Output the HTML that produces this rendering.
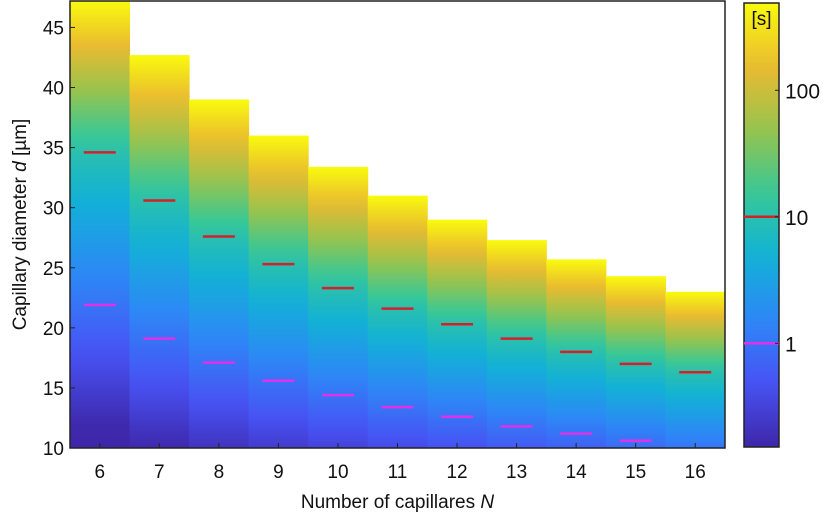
<!DOCTYPE html>
<html><head><meta charset="utf-8"><style>
body{margin:0;background:#fff;width:825px;height:516px;overflow:hidden;font-family:"Liberation Sans",sans-serif}
</style></head><body>
<svg id="chart" width="825" height="516"></svg>
<script>
const categories=[6,7,8,9,10,11,12,13,14,15,16];
const topD=[47.2,42.7,39.0,36.0,33.4,31.0,29.0,27.3,25.7,24.3,23.0];
const red10s=[34.6,30.6,27.6,25.3,23.3,21.6,20.3,19.1,18.0,17.0,16.3];
const mag1s=[21.9,19.1,17.1,15.6,14.4,13.4,12.6,11.8,11.2,10.6,null];
const yTicks=[10,15,20,25,30,35,40,45];
const cbTicks=[1,10,100];
const NS="http://www.w3.org/2000/svg";
const svg=document.getElementById('chart');
const L=70,R=725,T=1,B=448;
const dMin=10,dMax=47.2;
const ys=d=>B-(d-dMin)/(dMax-dMin)*(B-T);
const cw=(R-L)/categories.length;
const xs=i=>L+i*cw;
const logMin=-0.82,logMax=2.69;
const parula=[[0.2422,0.1504,0.6603],[0.2810,0.3228,0.9579],[0.1786,0.5289,0.9682],[0.0689,0.6948,0.8394],[0.2161,0.7843,0.5923],[0.5923,0.7659,0.3022],[0.9184,0.7305,0.1890],[0.9763,0.9831,0.0538]];
function cmap(lg){let f=(lg-logMin)/(logMax-logMin);f=Math.max(0,Math.min(1,f));const p=f*(parula.length-1);const i=Math.min(Math.floor(p),parula.length-2);const t=p-i;const c=parula[i].map((v,k)=>Math.round(255*(v+(parula[i+1][k]-v)*t)));return `rgb(${c})`;}
function el(n,a,p){const e=document.createElementNS(NS,n);for(const k in a)e.setAttribute(k,a[k]);(p||svg).appendChild(e);return e;}
const defs=el('defs',{});
categories.forEach((c,i)=>{
  const dr=red10s[i];const dm=mag1s[i]!=null?mag1s[i]:dr-(red10s[i-1]-mag1s[i-1]);
  const slope=1/(dr-dm);
  const lgAt=d=>d<=dr?1+(d-dr)*slope:1+(d-dr)/(topD[i]-dr)*(logMax-1);
  const g=el('linearGradient',{id:'g'+i,x1:0,y1:1,x2:0,y2:0},defs);
  for(let s=0;s<=20;s++){const d=dMin+(topD[i]-dMin)*s/20;el('stop',{offset:s/20,'stop-color':cmap(lgAt(d))},g);}
  const r=el('rect',{x:xs(i),y:ys(topD[i]),width:cw+0.5,height:B-ys(topD[i]),fill:'url(#g'+i+')'});
  
  
  const x0=xs(i)+cw/2-16;
  const rl=el('line',{x1:x0,x2:x0+32,y1:ys(dr),y2:ys(dr),stroke:'#d3202a','stroke-width':2.5});
  
  
  if(mag1s[i]!=null){const ml=el('line',{x1:x0,x2:x0+32,y1:ys(mag1s[i]),y2:ys(mag1s[i]),stroke:'#e030e8','stroke-width':2.5});
  
  }
  const tx=el('text',{x:xs(i)+cw/2,y:478,'font-size':19,'text-anchor':'middle',fill:'#111'});tx.textContent=c;
  
  
  el('line',{x1:xs(i)+cw/2,x2:xs(i)+cw/2,y1:B,y2:B-5,stroke:'#222'});
});
yTicks.forEach(v=>{const t=el('text',{x:L-6,y:ys(v)+7,'font-size':19,'text-anchor':'end',fill:'#111'});t.textContent=v;


el('line',{x1:L,x2:L+5,y1:ys(v),y2:ys(v),stroke:'#222'});});
const frame=el('rect',{x:L,y:T,width:R-L,height:B-T,fill:'none',stroke:'#222','stroke-width':1.5});


const xt=el('text',{x:(L+R)/2,y:508,'font-size':19,'text-anchor':'middle',fill:'#111'});xt.innerHTML='Number of capillares <tspan font-style="italic">N</tspan>';


const yt=el('text',{x:0,y:0,'font-size':19,'text-anchor':'middle',fill:'#111',transform:`translate(26,${(T+B)/2}) rotate(-90)`});yt.innerHTML='Capillary diameter <tspan font-style="italic">d</tspan> [µm]';


const cbT=3,cbB=447,cbL=744,cbR=779;
const cby=lg=>cbB-(lg-logMin)/(logMax-logMin)*(cbB-cbT);
const cg=el('linearGradient',{id:'cbg',x1:0,y1:1,x2:0,y2:0},defs);
for(let s=0;s<=20;s++)el('stop',{offset:s/20,'stop-color':cmap(logMin+(logMax-logMin)*s/20)},cg);
const cb=el('rect',{x:cbL,y:cbT,width:cbR-cbL,height:cbB-cbT,fill:'url(#cbg)',stroke:'#222','stroke-width':1.5});


cbTicks.forEach(v=>{const y=cby(Math.log10(v));
 if(v===10)el('line',{x1:cbL,x2:cbR,y1:y,y2:y,stroke:'#d3202a','stroke-width':2.5});
 if(v===1)el('line',{x1:cbL,x2:cbR,y1:y,y2:y,stroke:'#e030e8','stroke-width':2.5});
 el('line',{x1:cbR-4,x2:cbR,y1:y,y2:y,stroke:'#222'});
 const t=el('text',{x:cbR+6,y:y+8,'font-size':21,fill:'#111'});t.textContent=v;
 
 });
const u=el('text',{x:(cbL+cbR)/2,y:25,'font-size':19,'text-anchor':'middle',fill:'#111'});u.textContent='[s]';


</script>
</body></html>
